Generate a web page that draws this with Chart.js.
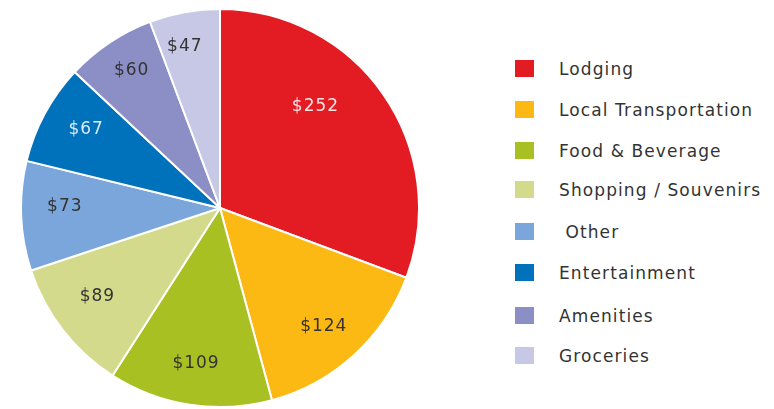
<!DOCTYPE html>
<html>
<head>
<meta charset="utf-8">
<script src="https://cdn.jsdelivr.net/npm/chart.js@4/dist/chart.umd.min.js"></script>
<style>
  html, body { margin: 0; padding: 0; background: #fff; }
  #wrap { position: relative; width: 774px; height: 409px; overflow: hidden; }
  #pieBox { position: absolute; left: 20px; top: 8px; width: 400px; height: 400px; }
  #legend { position: absolute; left: 515px; top: 0; margin: 0; padding: 0; list-style: none;
            font-family: "DejaVu Sans", sans-serif; font-size: 17px; letter-spacing: 1.1px; color: #333; }
  #legend li { position: absolute; white-space: pre; height: 20px; line-height: 20px; }
  #legend span.box { position: absolute; left: 0; top: 1px; width: 19px; height: 17px; }
  #legend span.txt { position: absolute; left: 44px; top: 0; }
</style>
</head>
<body>
<div id="wrap">
  <div id="pieBox"><canvas id="grafica_gastos"></canvas></div>
  <ul id="legend"></ul>
</div>
<script>
var categorias = ["Lodging", "Local Transportation", "Food & Beverage", "Shopping / Souvenirs",
                  " Other", "Entertainment", "Amenities", "Groceries"];
var gastos = [252, 124, 109, 89, 73, 67, 60, 47];
var colores = ["#e31b23", "#fdb913", "#a9c023", "#d3da8b", "#7ba6dc", "#0072bc", "#8c8fc6", "#c6c8e6"];
var coloresTexto = ["#fbe3e3", "#333333", "#333333", "#333333", "#333333", "#d6ecfa", "#333333", "#333333"];

// label placement: how far out along the radius, and a small turn in degrees
var alcance = [0.70, 0.79, 0.79, 0.76, 0.78, 0.78, 0.82, 0.83];
var giro = [-12, 1, 0, 2, 3, 2, 1, -2];

var etiquetas = {
  id: 'etiquetas',
  afterDatasetsDraw: function(chart) {
    var ctx = chart.ctx;
    ctx.save();
    ctx.font = '17px "DejaVu Sans", sans-serif';
    ctx.letterSpacing = '1px';
    ctx.textAlign = 'center';
    ctx.textBaseline = 'middle';
    chart.getDatasetMeta(0).data.forEach(function(arc, i) {
      var p = arc.getProps(['x', 'y', 'startAngle', 'endAngle', 'outerRadius'], true);
      var ang = (p.startAngle + p.endAngle) / 2 + giro[i] * Math.PI / 180;
      var r = p.outerRadius * alcance[i];
      ctx.fillStyle = coloresTexto[i];
      ctx.fillText('$' + gastos[i], p.x + Math.cos(ang) * r, p.y + Math.sin(ang) * r);
    });
    ctx.restore();
  }
};

var data_gastos = {
  labels: categorias,
  datasets: [{
    data: gastos,
    backgroundColor: colores,
    borderColor: '#ffffff',
    borderWidth: 2
  }]
};

var config_gastos = {
  type: 'pie',
  data: data_gastos,
  options: {
    responsive: true,
    maintainAspectRatio: false,
    animation: false,
    layout: { padding: 0 },
    plugins: {
      legend: { display: false },
      tooltip: { enabled: false }
    }
  },
  plugins: [etiquetas]
};

var grafica = new Chart(document.getElementById('grafica_gastos'), config_gastos);

// legend built from the same arrays
var filas = [69, 110, 151, 190, 232, 273, 316, 356];
var lista = document.getElementById('legend');
categorias.forEach(function(nombre, i) {
  var li = document.createElement('li');
  li.style.top = (filas[i] - 10) + 'px';
  li.innerHTML = '<span class="box" style="background:' + colores[i] + '"></span><span class="txt"></span>';
  li.querySelector('.txt').textContent = nombre;
  lista.appendChild(li);
});
</script>
</body>
</html>
